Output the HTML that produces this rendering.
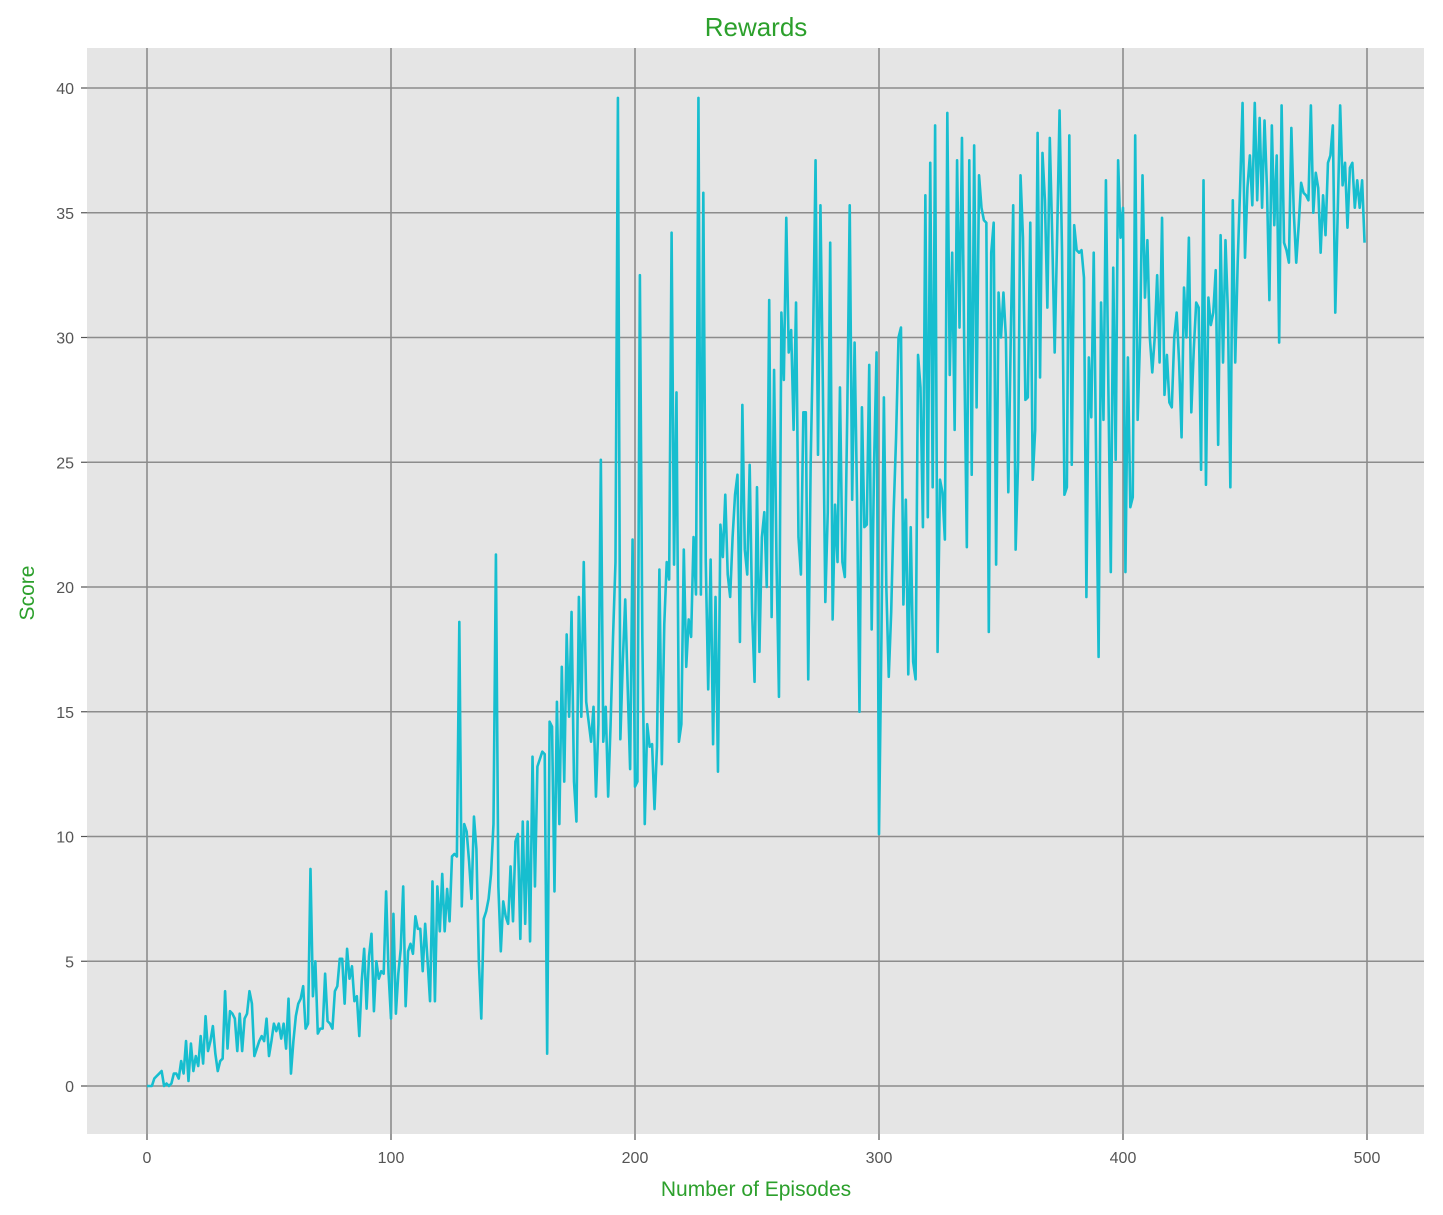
<!DOCTYPE html>
<html><head><meta charset="utf-8"><style>
body{margin:0;background:#fff;}
svg{display:block;font-family:"Liberation Sans","DejaVu Sans",sans-serif;}
</style></head><body>
<svg id="chart" width="1443" height="1215" viewBox="0 0 1443 1215" xmlns="http://www.w3.org/2000/svg">
<rect x="0" y="0" width="1443" height="1215" fill="#ffffff"/>
<rect x="87" y="48" width="1337" height="1086" fill="#e5e5e5"/>
<g id="grid"></g>
<g id="series"></g>
<g id="ticks"></g>
<text x="756" y="36" text-anchor="middle" font-size="26" fill="#2ca02c">Rewards</text>
<text x="756" y="1196" text-anchor="middle" font-size="21" fill="#2ca02c">Number of Episodes</text>
<text x="34" y="593" text-anchor="middle" font-size="21" fill="#2ca02c" transform="rotate(-90 34 593)">Score</text>
</svg>
<script>
const xTicks=[0,100,200,300,400,500];
const yTicks=[0,5,10,15,20,25,30,35,40];
const scores=[
0,0,0,0.3,0.4,0.5,0.6,0,0.1,0,
0.1,0.5,0.5,0.3,1.0,0.5,1.8,0.2,1.7,0.6,
1.2,0.8,2.0,0.9,2.8,1.4,1.8,2.4,1.3,0.6,
1.0,1.1,3.8,1.5,3.0,2.9,2.7,1.4,2.9,1.4,
2.7,2.9,3.8,3.3,1.2,1.5,1.8,2.0,1.8,2.7,
1.2,1.8,2.5,2.2,2.5,1.9,2.5,1.5,3.5,0.5,
1.8,2.8,3.3,3.5,4.0,2.3,2.5,8.7,3.6,5.0,
2.1,2.3,2.3,4.5,2.6,2.5,2.3,3.8,4.0,5.1,
5.1,3.3,5.5,4.3,4.8,3.4,3.6,2.0,4.2,5.5,
3.1,5.2,6.1,3.0,5.0,4.3,4.6,4.5,7.8,4.5,
2.7,6.9,2.9,4.5,5.5,8.0,3.2,5.4,5.7,5.3,
6.8,6.3,6.3,4.6,6.5,5.0,3.4,8.2,3.4,8.0,
6.2,8.5,6.2,7.9,6.6,9.2,9.3,9.2,18.6,7.2,
10.5,10.2,9.0,7.5,10.8,9.5,5.0,2.7,6.7,7.0,
7.5,8.5,10.5,21.3,8.0,5.4,7.4,6.8,6.5,8.8,
6.6,9.8,10.1,5.9,10.6,6.5,10.6,5.8,13.2,8.0,
12.8,13.1,13.4,13.3,1.3,14.6,14.4,7.8,15.4,10.5,
16.8,12.2,18.1,14.8,19.0,12.2,10.6,19.6,14.8,21.0,
15.4,14.6,13.8,15.2,11.6,14.5,25.1,13.8,15.2,11.6,
14.5,18.0,21.0,39.6,13.9,17.0,19.5,16.0,12.7,21.9,
12.0,12.2,32.5,18.0,10.5,14.5,13.6,13.7,11.1,13.6,
20.7,12.9,18.5,21.0,20.3,34.2,20.9,27.8,13.8,14.5,
21.5,16.8,18.7,18.0,22.0,19.7,39.6,19.7,35.8,21.0,
15.9,21.1,13.7,19.6,12.6,22.5,21.2,23.7,20.5,19.6,
22.0,23.7,24.5,17.8,27.3,21.5,20.5,24.9,19.0,16.2,
24.0,17.4,22.0,23.0,20.0,31.5,18.8,28.7,21.0,15.6,
31.0,28.3,34.8,29.4,30.3,26.3,31.4,22.0,20.5,27.0,
27.0,16.3,25.0,30.0,37.1,25.3,35.3,28.0,19.4,23.0,
33.8,18.7,23.3,21.0,28.0,21.0,20.4,27.0,35.3,23.5,
29.8,23.5,15.0,27.2,22.4,22.5,28.9,18.3,25.0,29.4,
10.1,18.0,27.6,20.0,16.4,19.0,23.0,26.0,30.0,30.4,
19.3,23.5,16.5,22.4,17.0,16.3,29.3,28.0,22.4,35.7,
22.8,37.0,24.0,38.5,17.4,24.3,23.8,21.9,39.0,28.5,
33.4,26.3,37.1,30.4,38.0,29.0,21.6,37.1,24.5,37.7,
27.2,36.5,35.2,34.7,34.6,18.2,33.4,34.6,20.9,31.8,
30.0,31.8,30.0,23.8,30.0,35.3,21.5,25.0,36.5,34.0,
27.5,27.6,34.6,24.3,26.3,38.2,28.4,37.4,35.5,31.2,
38.0,34.0,29.4,34.0,39.1,33.5,23.7,24.0,38.1,24.9,
34.5,33.5,33.4,33.5,32.4,19.6,29.2,26.8,33.4,25.0,
17.2,31.4,26.7,36.3,28.0,20.6,32.8,25.1,37.1,34.0,
35.2,20.6,29.2,23.2,23.6,38.1,26.7,30.0,36.5,31.6,
33.9,30.0,28.6,30.0,32.5,29.0,34.8,27.7,29.3,27.4,
27.2,30.0,31.0,29.0,26.0,32.0,30.0,34.0,27.0,29.5,
31.4,31.2,24.7,36.3,24.1,31.6,30.5,31.0,32.7,25.7,
34.1,29.0,33.9,31.0,24.0,35.5,29.0,33.0,36.0,39.4,
33.2,36.0,37.3,35.3,39.4,35.5,38.8,35.2,38.7,36.0,
31.5,38.5,34.5,37.3,29.8,39.3,33.8,33.5,33.0,38.4,
35.0,33.0,34.5,36.2,35.8,35.7,35.5,39.3,35.0,36.6,
36.0,33.4,35.7,34.1,37.0,37.3,38.5,31.0,35.0,39.3,
36.1,37.0,34.4,36.8,37.0,35.2,36.3,35.2,36.3,33.8
];
const NS="http://www.w3.org/2000/svg";
function xs(v){return 147+v*(1367-147)/500;}
function ys(v){return 1086-v*(1086-88)/40;}
const grid=document.getElementById('grid');
const ticks=document.getElementById('ticks');
xTicks.forEach(t=>{
  const l=document.createElementNS(NS,'line');
  
  
  l.setAttribute('x1',xs(t));l.setAttribute('x2',xs(t));l.setAttribute('y1',48);l.setAttribute('y2',1134);
  l.setAttribute('stroke','#8c8c8c');l.setAttribute('stroke-width','1.6');
  grid.appendChild(l);
  const tk=document.createElementNS(NS,'line');
  
  
  tk.setAttribute('x1',xs(t));tk.setAttribute('x2',xs(t));tk.setAttribute('y1',1134);tk.setAttribute('y2',1140);
  tk.setAttribute('stroke','#555');tk.setAttribute('stroke-width','1.2');
  ticks.appendChild(tk);
  const tx=document.createElementNS(NS,'text');
  
  
  tx.setAttribute('x',xs(t));tx.setAttribute('y',1163);tx.setAttribute('text-anchor','middle');
  tx.setAttribute('font-size','16');tx.setAttribute('fill','#555');
  tx.textContent=t;ticks.appendChild(tx);
});
yTicks.forEach(t=>{
  const l=document.createElementNS(NS,'line');
  
  
  l.setAttribute('x1',87);l.setAttribute('x2',1424);l.setAttribute('y1',ys(t));l.setAttribute('y2',ys(t));
  l.setAttribute('stroke','#8c8c8c');l.setAttribute('stroke-width','1.6');
  grid.appendChild(l);
  const tk=document.createElementNS(NS,'line');
  
  
  tk.setAttribute('x1',81);tk.setAttribute('x2',87);tk.setAttribute('y1',ys(t));tk.setAttribute('y2',ys(t));
  tk.setAttribute('stroke','#555');tk.setAttribute('stroke-width','1.2');
  ticks.appendChild(tk);
  const tx=document.createElementNS(NS,'text');
  
  
  tx.setAttribute('x',74);tx.setAttribute('y',ys(t)+6);tx.setAttribute('text-anchor','end');
  tx.setAttribute('font-size','16');tx.setAttribute('fill','#555');
  tx.textContent=t;ticks.appendChild(tx);
});
const pts=scores.map((v,i)=>xs(i).toFixed(2)+','+ys(v).toFixed(2)).join(' ');
const pl=document.createElementNS(NS,'polyline');


pl.setAttribute('points',pts);pl.setAttribute('fill','none');
pl.setAttribute('stroke','#17becf');pl.setAttribute('stroke-width','2.6');pl.setAttribute('stroke-linejoin','round');
document.getElementById('series').appendChild(pl);
</script>
</body></html>
